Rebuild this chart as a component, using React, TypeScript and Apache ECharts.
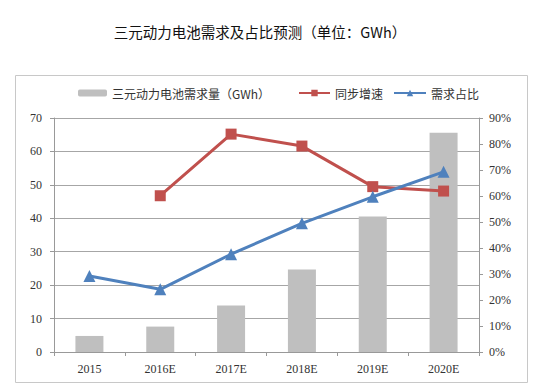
import React, { useEffect, useRef } from "react";
import * as echarts from "echarts";

const categories = ["2015", "2016E", "2017E", "2018E", "2019E", "2020E"];
const demand = [4.8, 7.6, 13.9, 24.7, 40.5, 65.6];
const growth = [null, 60.1, 83.8, 79.2, 63.6, 61.9];
const share = [29.2, 24.1, 37.6, 49.5, 59.7, 69.3];
const leftTicks = { min: 0, max: 70, interval: 10 };
const rightTicks = { min: 0, max: 90, interval: 10 };

const serif = "'Liberation Serif', 'Times New Roman', serif";
const cjk = "'Noto Sans CJK SC', sans-serif";

export default function App() {
  const ref = useRef<HTMLDivElement>(null);
  useEffect(() => {
    if (!ref.current) return;
    const chart = echarts.init(ref.current, null, { renderer: "svg" });
    const legendText = { fontFamily: cjk, fontSize: 12, color: "#333" };
    chart.setOption({
      animation: false,
      backgroundColor: "#fff",
      graphic: [
        {
          type: "rect",
          shape: { x: 15.5, y: 75.5, width: 512, height: 307 },
          style: { fill: "none", stroke: "#c8c8c8", lineWidth: 1 },
        },
        {
          type: "text",
          x: 260,
          y: 31,
          style: {
            text: "三元动力电池需求及占比预测（单位：GWh）",
            fontFamily: cjk,
            fontSize: 14.5,
            fill: "#111",
            align: "center",
            verticalAlign: "middle",
          },
        },
      ],
      legend: [
        {
          data: ["三元动力电池需求量（GWh）"],
          left: 73,
          top: 82,
          itemWidth: 29,
          itemHeight: 7,
          textStyle: legendText,
        },
        {
          data: ["同步增速"],
          left: 293,
          top: 82,
          itemWidth: 31,
          itemHeight: 8,
          textStyle: legendText,
        },
        {
          data: ["需求占比"],
          left: 388,
          top: 82,
          itemWidth: 32,
          itemHeight: 8,
          textStyle: legendText,
        },
      ],
      grid: { left: 54, right: 59, top: 118, bottom: 39 },
      xAxis: {
        type: "category",
        data: categories,
        boundaryGap: true,
        axisLine: { lineStyle: { color: "#999", width: 1 } },
        axisTick: { show: true, length: 4, lineStyle: { color: "#999" } },
        axisLabel: { fontFamily: serif, fontSize: 12, color: "#333", margin: 11 },
      },
      yAxis: [
        {
          type: "value",
          ...leftTicks,
          axisLine: { show: true, lineStyle: { color: "#999" } },
          axisTick: { show: true, length: 4, lineStyle: { color: "#999" } },
          axisLabel: { fontFamily: serif, fontSize: 12, color: "#333", margin: 12 },
          splitLine: { lineStyle: { color: "#a6a6a6", width: 1 } },
        },
        {
          type: "value",
          ...rightTicks,
          position: "right",
          axisLine: { show: true, lineStyle: { color: "#999" } },
          axisTick: { show: true, length: 4, lineStyle: { color: "#999" } },
          axisLabel: {
            fontFamily: serif,
            fontSize: 12,
            color: "#333",
            margin: 10,
            formatter: "{value}%",
          },
          splitLine: { show: false },
        },
      ],
      series: [
        {
          name: "三元动力电池需求量（GWh）",
          type: "bar",
          data: demand,
          barWidth: 28,
          itemStyle: { color: "#bfbfbf" },
        },
        {
          name: "同步增速",
          type: "line",
          yAxisIndex: 1,
          data: growth,
          symbol: "rect",
          symbolSize: 11,
          lineStyle: { color: "#c0504d", width: 3 },
          itemStyle: { color: "#c0504d" },
        },
        {
          name: "需求占比",
          type: "line",
          yAxisIndex: 1,
          data: share,
          symbol: "triangle",
          symbolSize: 12,
          lineStyle: { color: "#4f81bd", width: 3 },
          itemStyle: { color: "#4f81bd" },
        },
      ],
    });
    return () => chart.dispose();
  }, []);
  return (
    <div
      ref={ref}
      style={{ position: "absolute", left: 0, top: 0, width: 538, height: 391 }}
    />
  );
}
